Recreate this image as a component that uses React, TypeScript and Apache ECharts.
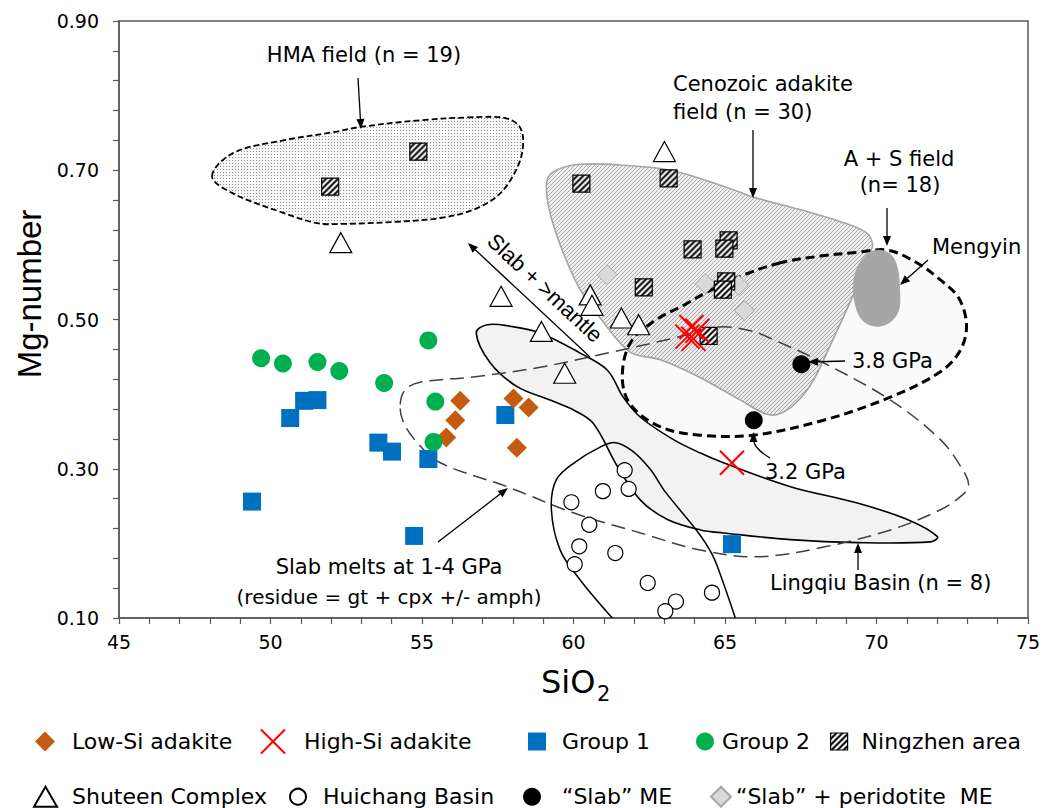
import React, { useEffect, useRef } from 'react';
import * as echarts from 'echarts';

// ---------- axes ----------
const X_MIN = 45;
const X_MAX = 75;
const X_INTERVAL = 5;
const Y_MIN = 0.1;
const Y_MAX = 0.9;
const Y_INTERVAL = 0.2;

// ---------- data points [SiO2, Mg-number] ----------
const LOW_SI_ADAKITE = [[56.26, 0.391], [56.1, 0.365], [55.8, 0.342], [58.02, 0.394], [58.52, 0.382], [58.13, 0.328]];
const HIGH_SI_ADAKITE = [[63.89, 0.49], [64.09, 0.485], [63.76, 0.477], [63.96, 0.474], [65.23, 0.308]];
const GROUP_1 = [[50.65, 0.368], [51.11, 0.391], [51.55, 0.392], [53.56, 0.335], [54.01, 0.323], [55.21, 0.313], [57.75, 0.372], [49.39, 0.256], [54.74, 0.21], [65.23, 0.199]];
const GROUP_2 = [[49.69, 0.448], [50.41, 0.441], [51.55, 0.443], [52.27, 0.431], [55.21, 0.472], [53.75, 0.415], [55.44, 0.39], [55.38, 0.336]];
const NINGZHEN = [[51.97, 0.678], [54.88, 0.725], [60.26, 0.682], [63.14, 0.689], [63.93, 0.594], [65.12, 0.606], [64.98, 0.595], [62.32, 0.543], [65.04, 0.551], [64.93, 0.54], [64.46, 0.478]];
const SHUTEEN = [[52.32, 0.603], [63.0, 0.725], [57.61, 0.531], [58.94, 0.484], [59.71, 0.428], [60.55, 0.533], [60.61, 0.519], [61.58, 0.502], [62.15, 0.493]];
const HUICHANG = [[61.69, 0.298], [60.97, 0.27], [61.82, 0.273], [59.93, 0.255], [60.52, 0.225], [60.19, 0.196], [61.38, 0.187], [60.04, 0.172], [62.45, 0.147], [63.38, 0.122], [63.03, 0.109], [64.57, 0.134]];
const SLAB_ME = [[67.52, 0.44], [65.95, 0.365]];
const SLAB_PERIDOTITE_ME = [[61.11, 0.56], [64.35, 0.548], [65.45, 0.546], [65.64, 0.512]];

// ---------- field outlines (data coordinates) ----------
const HMA_FIELD = [[48.07, 0.692], [48.76, 0.723], [50.42, 0.74], [52.07, 0.751], [52.96, 0.758], [54.94, 0.767], [56.69, 0.771], [57.75, 0.77], [58.21, 0.759], [58.34, 0.738], [58.18, 0.707], [57.58, 0.669], [56.69, 0.647], [55.6, 0.636], [54.18, 0.631], [52.3, 0.628], [51.54, 0.629], [50.42, 0.643], [48.76, 0.669]];
const CENOZOIC_FIELD = [[59.13, 0.687], [59.43, 0.7], [60.22, 0.708], [61.55, 0.707], [63.2, 0.7], [64.85, 0.68], [65.94, 0.664], [67.49, 0.647], [68.81, 0.631], [69.64, 0.617], [69.87, 0.602], [69.8, 0.59], [69.31, 0.54], [68.48, 0.466], [67.82, 0.412], [67.16, 0.382], [66.5, 0.372], [65.51, 0.392], [64.19, 0.422], [62.87, 0.446], [61.88, 0.456], [61.05, 0.493], [60.22, 0.54], [59.56, 0.6], [59.17, 0.653]];
const AS_FIELD = [[66.83, 0.576], [65.51, 0.558], [64.42, 0.537], [63.63, 0.519], [62.7, 0.499], [61.88, 0.469], [61.61, 0.423], [61.88, 0.386], [62.87, 0.356], [64.19, 0.345], [65.94, 0.345], [68.25, 0.365], [70.46, 0.396], [72.11, 0.43], [72.77, 0.459], [72.97, 0.493], [72.71, 0.529], [72.11, 0.553], [71.29, 0.577], [70.36, 0.593], [69.37, 0.59], [68.15, 0.585]];
const MENGYIN_FIELD = [[69.47, 0.577], [69.9, 0.592], [70.4, 0.589], [70.66, 0.573], [70.76, 0.54], [70.73, 0.513], [70.46, 0.497], [70.0, 0.491], [69.54, 0.499], [69.31, 0.519], [69.24, 0.549]];
const LINGQIU_FIELD = [[56.79, 0.482], [57.15, 0.493], [57.91, 0.491], [58.9, 0.482], [60.22, 0.455], [61.12, 0.432], [61.64, 0.396], [62.21, 0.369], [63.3, 0.339], [64.19, 0.321], [64.95, 0.308], [67.16, 0.276], [69.37, 0.254], [71.02, 0.232], [72.01, 0.209], [71.78, 0.202], [69.37, 0.201], [67.16, 0.205], [64.95, 0.214], [64.19, 0.218], [63.1, 0.232], [62.21, 0.258], [61.45, 0.303], [60.65, 0.361], [59.99, 0.379], [59.23, 0.392], [58.14, 0.41], [57.25, 0.442]];
const SLAB_MELTS_FIELD = [[54.28, 0.386], [54.45, 0.406], [54.94, 0.416], [56.69, 0.423], [58.9, 0.436], [61.12, 0.455], [63.3, 0.475], [64.75, 0.49], [65.84, 0.485], [66.6, 0.473], [68.25, 0.442], [70.46, 0.392], [72.11, 0.339], [72.84, 0.299], [73.04, 0.278], [72.84, 0.265], [72.11, 0.245], [70.46, 0.218], [68.25, 0.195], [66.07, 0.182], [64.19, 0.191], [62.21, 0.214], [59.99, 0.241], [57.81, 0.276], [55.6, 0.308], [54.84, 0.335], [54.38, 0.363]];
const HUICHANG_OUTLINE = [[61.28, 0.1], [60.22, 0.151], [59.56, 0.191], [59.27, 0.245], [59.43, 0.285], [60.06, 0.309], [60.88, 0.329], [61.38, 0.335], [61.94, 0.324], [62.54, 0.299], [63.03, 0.269], [64.09, 0.216], [64.58, 0.185], [64.91, 0.151], [65.34, 0.1]];

const FONT = '"DejaVu Sans", "Liberation Sans", sans-serif';
const ARIAL = '"Liberation Sans", Arial, sans-serif';

function makePattern(size: number, draw: (ctx: CanvasRenderingContext2D, s: number) => void, drawSize?: number) {
  const c = document.createElement('canvas');
  c.width = size;
  c.height = size;
  const ctx = c.getContext('2d')!;
  draw(ctx, size);
  const d = drawSize ?? size;
  return { image: c, repeat: 'repeat', imageWidth: d, imageHeight: d };
}

function diag(ctx: CanvasRenderingContext2D, s: number, period: number) {
  ctx.beginPath();
  for (let k = -s; k <= 2 * s; k += period) {
    ctx.moveTo(k - s - 2, s + 2);
    ctx.lineTo(k + 2, -2);
  }
  ctx.stroke();
}

function arrowEls(x1: number, y1: number, x2: number, y2: number, len = 10, hw = 4) {
  const dx = x2 - x1;
  const dy = y2 - y1;
  const L = Math.hypot(dx, dy);
  const ux = dx / L;
  const uy = dy / L;
  const bx = x2 - ux * len;
  const by = y2 - uy * len;
  return [
    { type: 'line', z: 100, shape: { x1, y1, x2: bx, y2: by }, style: { stroke: '#000', lineWidth: 1.3 } },
    { type: 'polygon', z: 100, shape: { points: [[x2, y2], [bx - uy * hw, by + ux * hw], [bx + uy * hw, by - ux * hw]] }, style: { fill: '#000' } },
  ];
}

function textEl(text: string, x: number, y: number, align: string, fontSize = 21, family = FONT, rotation = 0) {
  return {
    type: 'text', z: 100, x, y, rotation,
    style: { text, fill: '#000', fontSize, fontFamily: family, align, textAlign: align, verticalAlign: 'middle', textVerticalAlign: 'middle' },
  };
}

function fieldSeries(name: string, pts: number[][], style: any, closed = true, smooth = 0.35, z = 1) {
  return {
    type: 'custom', name, coordinateSystem: 'cartesian2d', silent: true, clip: true, z,
    data: [pts[0]],
    renderItem: (_p: any, api: any) => ({
      type: closed ? 'polygon' : 'polyline',
      shape: { points: pts.map((p) => api.coord(p)), smooth },
      style,
    }),
  };
}

const NZ_SIZE = 17;

function buildOption() {
  const stripes = (ctx: CanvasRenderingContext2D, s: number) => {
    ctx.fillStyle = '#fff';
    ctx.fillRect(0, 0, s, s);
    ctx.strokeStyle = '#000';
    ctx.lineWidth = 2;
    diag(ctx, s, 6);
  };
  // scatter symbols are drawn in a 2x2 box scaled by size/2, so shrink the pattern accordingly
  const hatchNingzhen = makePattern(18, stripes, 18 / (NZ_SIZE / 2));
  const hatchNingzhenLegend = makePattern(18, stripes);
  const hatchCeno = makePattern(16, (ctx, s) => {
    ctx.fillStyle = '#f0f0f0';
    ctx.fillRect(0, 0, s, s);
    ctx.strokeStyle = '#a0a0a0';
    ctx.lineWidth = 0.9;
    diag(ctx, s, 4);
  });
  const dots = makePattern(3, (ctx, s) => {
    ctx.fillStyle = '#f8f8f8';
    ctx.fillRect(0, 0, s, s);
    ctx.fillStyle = '#8c8c8c';
    ctx.fillRect(1, 1, 1, 1);
  });

  const legendItems = [
    { name: 'Low-Si adakite', left: 35, top: 730.5, w: 20, h: 20, pad: 12 },
    { name: 'High-Si adakite', left: 260, top: 728.5, w: 24, h: 24, pad: 14 },
    { name: 'Group 1', left: 528, top: 730.5, w: 18, h: 18, pad: 11 },
    { name: 'Group 2', left: 696, top: 730.5, w: 18, h: 18, pad: 3 },
    { name: 'Ningzhen area', left: 830, top: 730.5, w: 17, h: 17, pad: 9, itemStyle: { color: hatchNingzhenLegend, borderColor: '#000', borderWidth: 1.2 } },
    { name: 'Shuteen Complex', left: 33, top: 785.7, w: 23, h: 20, pad: 10 },
    { name: 'Huichang Basin', left: 289, top: 785.7, w: 16, h: 16, pad: 12 },
    { name: '“Slab” ME', left: 523, top: 785.7, w: 18, h: 18, pad: 16 },
    { name: '“Slab” + peridotite  ME', left: 710, top: 785.7, w: 20, h: 20, pad: 0 },
  ];

  const graphics: any[] = [
    textEl('HMA field (n = 19)', 364, 55, 'center'),
    textEl('Cenozoic adakite', 673, 84, 'left'),
    textEl('field (n = 30)', 673, 112, 'left'),
    textEl('A + S field', 899, 159, 'center'),
    textEl('(n= 18)', 900, 185, 'center'),
    textEl('Mengyin', 932, 247, 'left'),
    textEl('3.8 GPa', 852, 361, 'left'),
    textEl('3.2 GPa', 765, 472, 'left'),
    textEl('Lingqiu Basin (n = 8)', 770, 583, 'left'),
    textEl('Slab melts at 1-4 GPa', 389, 567, 'center'),
    textEl('(residue = gt + cpx +/- amph)', 389, 597, 'center', 20),
    textEl('Slab + >mantle', 545, 288, 'center', 22, ARIAL, -0.75),
    textEl('Mg-number', 29, 294, 'center', 33, ARIAL, Math.PI / 2),
    textEl('SiO', 541, 682, 'left', 32),
    textEl('2', 597, 694, 'left', 21),
    ...arrowEls(358, 78, 361, 129),
    ...arrowEls(753, 130, 753, 198),
    ...arrowEls(887, 208, 887, 246),
    ...arrowEls(928, 260, 900, 285),
    ...arrowEls(845, 361, 808, 362),
    ...arrowEls(858, 570, 858, 543),
    ...arrowEls(438, 542, 508, 488),
    ...arrowEls(590, 357, 468, 243),
    { type: 'bezierCurve', z: 100, shape: { x1: 770, y1: 458, cpx1: 760, cpy1: 452, cpx2: 755, cpy2: 447, x2: 754, y2: 442 }, style: { stroke: '#000', lineWidth: 1.3, fill: 'none' } },
    { type: 'polygon', z: 100, shape: { points: [[753.5, 432], [749.5, 442], [757.5, 442]] }, style: { fill: '#000' } },
  ];

  const axisCommon = {
    type: 'value',
    axisLine: { show: true, onZero: false, lineStyle: { color: '#595959', width: 1.5 } },
    axisTick: { show: true, length: 6, lineStyle: { color: '#595959', width: 1.2 } },
    minorTick: { show: true, splitNumber: 5, length: 6, lineStyle: { color: '#595959', width: 1.2 } },
    splitLine: { show: false },
    minorSplitLine: { show: false },
  };

  return {
    animation: false,
    backgroundColor: '#fff',
    grid: { left: 119, right: 36, top: 21, bottom: 190, show: true, borderColor: '#595959', borderWidth: 1.5 },
    xAxis: {
      ...axisCommon,
      min: X_MIN, max: X_MAX, interval: X_INTERVAL,
      axisLabel: { color: '#000', fontSize: 19, fontFamily: FONT, margin: 14 },
    },
    yAxis: {
      ...axisCommon,
      min: Y_MIN, max: Y_MAX, interval: Y_INTERVAL,
      axisLabel: { color: '#000', fontSize: 19, fontFamily: FONT, margin: 20, formatter: (v: number) => v.toFixed(2) },
    },
    legend: legendItems.map((it) => ({
      data: [it.itemStyle ? { name: it.name, itemStyle: it.itemStyle } : it.name],
      left: it.left, top: it.top, padding: 0, itemGap: 0,
      itemWidth: it.w, itemHeight: it.h, selectedMode: false,
      textStyle: { fontFamily: FONT, fontSize: 22, color: '#000', padding: [0, 0, 0, it.pad] },
    })),
    graphic: graphics,
    series: [
      fieldSeries('Lingqiu Basin field', LINGQIU_FIELD, { fill: '#f2f2f2', stroke: '#000', lineWidth: 1.6 }),
      fieldSeries('Cenozoic adakite field', CENOZOIC_FIELD, { fill: hatchCeno, stroke: '#a6a6a6', lineWidth: 1.6 }),
      fieldSeries('A + S field', AS_FIELD, { fill: 'rgba(0,0,0,0.02)', stroke: '#000', lineWidth: 3, lineDash: [9, 5] }),
      fieldSeries('Mengyin', MENGYIN_FIELD, { fill: '#a6a6a6', stroke: '#a6a6a6', lineWidth: 1 }),
      fieldSeries('HMA field', HMA_FIELD, { fill: dots, stroke: '#000', lineWidth: 1.8, lineDash: [6, 3] }),
      fieldSeries('Slab melts field', SLAB_MELTS_FIELD, { fill: 'none', stroke: '#404040', lineWidth: 1.5, lineDash: [14, 7] }),
      fieldSeries('Huichang Basin field', HUICHANG_OUTLINE, { fill: 'none', stroke: '#000', lineWidth: 1.5 }, false, 0.35),
      { type: 'scatter', name: 'Huichang Basin', data: HUICHANG, symbol: 'circle', symbolSize: 15, z: 3, itemStyle: { color: '#fff', borderColor: '#000', borderWidth: 1.2, opacity: 1 } },
      { type: 'scatter', name: 'Shuteen Complex', data: SHUTEEN, symbol: 'triangle', symbolSize: [22, 20], z: 3, itemStyle: { color: '#fff', borderColor: '#000', borderWidth: 1.2, opacity: 1 } },
      { type: 'scatter', name: '“Slab” + peridotite  ME', data: SLAB_PERIDOTITE_ME, symbol: 'diamond', symbolSize: 20, z: 3, itemStyle: { color: '#d9d9d9', borderColor: '#a6a6a6', borderWidth: 1, opacity: 1 } },
      { type: 'scatter', name: 'Ningzhen area', data: NINGZHEN, symbol: 'rect', symbolSize: NZ_SIZE, z: 3, itemStyle: { color: hatchNingzhen, borderColor: '#000', borderWidth: 1.2, opacity: 1 } },
      { type: 'scatter', name: 'Group 1', data: GROUP_1, symbol: 'rect', symbolSize: 18, z: 3, itemStyle: { color: '#0070c0', opacity: 1 } },
      { type: 'scatter', name: 'Low-Si adakite', data: LOW_SI_ADAKITE, symbol: 'diamond', symbolSize: 20, z: 3, itemStyle: { color: '#c55a11', opacity: 1 } },
      { type: 'scatter', name: 'Group 2', data: GROUP_2, symbol: 'circle', symbolSize: 18, z: 3, itemStyle: { color: '#00b050', opacity: 1 } },
      { type: 'scatter', name: 'High-Si adakite', data: HIGH_SI_ADAKITE, symbol: 'path://M0,0L10,10M10,0L0,10', symbolSize: 24, z: 3, itemStyle: { color: 'rgba(0,0,0,0)', borderColor: '#ff0000', borderWidth: 2, opacity: 1 } },
      { type: 'scatter', name: '“Slab” ME', data: SLAB_ME, symbol: 'circle', symbolSize: 18, z: 3, itemStyle: { color: '#000', opacity: 1 } },
    ],
  };
}

export default function App() {
  const ref = useRef<HTMLDivElement>(null);
  useEffect(() => {
    document.body.style.margin = '0';
    const chart = echarts.init(ref.current!, null, { renderer: 'svg', width: 1064, height: 808 });
    chart.setOption(buildOption() as any);
    return () => chart.dispose();
  }, []);
  return <div ref={ref} style={{ position: 'absolute', left: 0, top: 0, width: 1064, height: 808 }} />;
}
